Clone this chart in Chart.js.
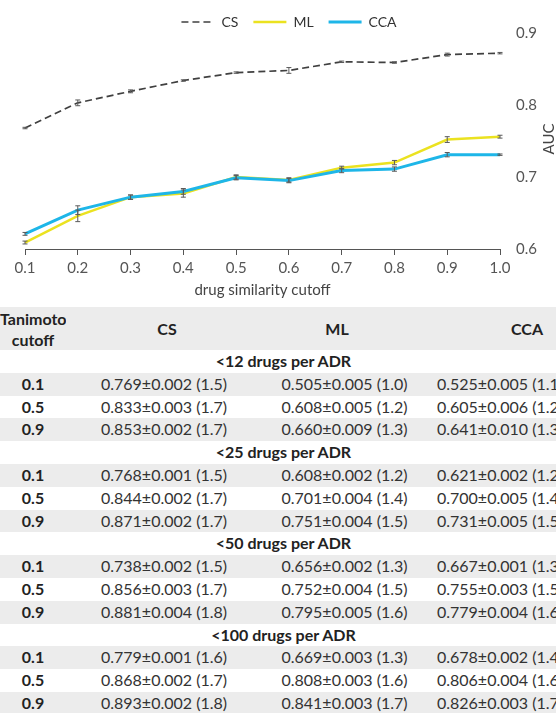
<!DOCTYPE html>
<html>
<head>
<meta charset="utf-8">
<script src="https://cdn.jsdelivr.net/npm/chart.js@4.4.1/dist/chart.umd.min.js"></script>
<style>
  html, body { margin: 0; padding: 0; background: #fff; overflow: hidden; width: 556px; height: 713px; }
  #wrap { position: relative; width: 556px; height: 307px; }
  table { border-collapse: collapse; font-family: Lato, sans-serif; font-size: 16px; color: #333; table-layout: fixed; width: 573px; }
  td, th { text-align: center; padding: 0; height: 22.8px; line-height: 22.8px; white-space: nowrap; overflow: hidden; }
  th { font-weight: bold; color: #222; line-height: 21px; height: 43px; }
  th.cs { padding-left: 6px; }
  th.ml { padding-right: 15px; }
  th.cca { padding-left: 54px; }
  tr.grey { background: #ececec; }
  td.cut, td.grp { font-weight: bold; color: #222; }
  td.grp { padding-right: 6px; }
</style>
</head>
<body>
<div id="wrap"><canvas id="chart"></canvas></div>
<table id="tbl"></table>
<script>
// AUC vs drug similarity cutoff
const cutoffLabels = ['0.1', '0.2', '0.3', '0.4', '0.5', '0.6', '0.7', '0.8', '0.9', '1.0'];
const csAUC  = [0.768, 0.803, 0.819, 0.834, 0.845, 0.848, 0.860, 0.859, 0.870, 0.872];
const mlAUC  = [0.609, 0.646, 0.672, 0.677, 0.700, 0.696, 0.713, 0.720, 0.752, 0.756];
const ccaAUC = [0.621, 0.654, 0.672, 0.680, 0.699, 0.695, 0.709, 0.711, 0.731, 0.731];
const csErr  = [0.001, 0.004, 0.002, 0.001, 0.001, 0.004, 0.001, 0.001, 0.002, 0.001];
const mlErr  = [0.002, 0.008, 0.003, 0.005, 0.003, 0.003, 0.002, 0.003, 0.004, 0.002];
const ccaErr = [0.002, 0.006, 0.003, 0.004, 0.003, 0.003, 0.003, 0.003, 0.003, 0.001];
const yTicks = [0.6, 0.7, 0.8, 0.9];

// table below the chart
const tableHead = ['Tanimoto<br>cutoff', 'CS', 'ML', 'CCA'];
const headClass = ['', 'cs', 'ml', 'cca'];
const groupNames = ['<12 drugs per ADR', '<25 drugs per ADR', '<50 drugs per ADR', '<100 drugs per ADR'];
const rowCutoffs = ['0.1', '0.5', '0.9'];
const tableCS = [
    ['0.769±0.002 (1.5)', '0.833±0.003 (1.7)', '0.853±0.002 (1.7)'],
    ['0.768±0.001 (1.5)', '0.844±0.002 (1.7)', '0.871±0.002 (1.7)'],
    ['0.738±0.002 (1.5)', '0.856±0.003 (1.7)', '0.881±0.004 (1.8)'],
    ['0.779±0.001 (1.6)', '0.868±0.002 (1.7)', '0.893±0.002 (1.8)']
];
const tableML = [
    ['0.505±0.005 (1.0)', '0.608±0.005 (1.2)', '0.660±0.009 (1.3)'],
    ['0.608±0.002 (1.2)', '0.701±0.004 (1.4)', '0.751±0.004 (1.5)'],
    ['0.656±0.002 (1.3)', '0.752±0.004 (1.5)', '0.795±0.005 (1.6)'],
    ['0.669±0.003 (1.3)', '0.808±0.003 (1.6)', '0.841±0.003 (1.7)']
];
const tableCCA = [
    ['0.525±0.005 (1.1)', '0.605±0.006 (1.2)', '0.641±0.010 (1.3)'],
    ['0.621±0.002 (1.2)', '0.700±0.005 (1.4)', '0.731±0.005 (1.5)'],
    ['0.667±0.001 (1.3)', '0.755±0.003 (1.5)', '0.779±0.004 (1.6)'],
    ['0.678±0.002 (1.4)', '0.806±0.004 (1.6)', '0.826±0.003 (1.7)']
];

function esc(s) { return s.replace(/</g, '&lt;'); }

function buildTable() {
    let html = '<colgroup><col style="width:66px"><col style="width:196px"><col style="width:165px"><col style="width:146px"></colgroup>';
    html += '<tr class="grey">' + tableHead.map((h, i) => `<th class="${headClass[i]}">${h}</th>`).join('') + '</tr>';
    groupNames.forEach((g, gi) => {
        html += `<tr><td class="grp" colspan="4">${esc(g)}</td></tr>`;
        rowCutoffs.forEach((c, ri) => {
            const cls = ri === 1 ? '' : ' class="grey"';
            html += `<tr${cls}><td class="cut">${c}</td><td>${tableCS[gi][ri]}</td><td>${tableML[gi][ri]}</td><td>${tableCCA[gi][ri]}</td></tr>`;
        });
    });
    document.getElementById('tbl').innerHTML = html;
}

const errorBars = {
    id: 'errorBars',
    afterDatasetsDraw(chart) {
        const ctx = chart.ctx;
        const y = chart.scales.y;
        ctx.save();
        ctx.strokeStyle = '#5a5a5a';
        ctx.lineWidth = 1;
        ctx.setLineDash([]);
        chart.data.datasets.forEach((ds, di) => {
            const meta = chart.getDatasetMeta(di);
            ds.errors.forEach((e, i) => {
                const pt = meta.data[i];
                const top = y.getPixelForValue(ds.data[i] + e);
                const bot = y.getPixelForValue(ds.data[i] - e);
                ctx.beginPath();
                ctx.moveTo(pt.x, top); ctx.lineTo(pt.x, bot);
                ctx.moveTo(pt.x - 2.5, top); ctx.lineTo(pt.x + 2.5, top);
                ctx.moveTo(pt.x - 2.5, bot); ctx.lineTo(pt.x + 2.5, bot);
                ctx.stroke();
            });
        });
        ctx.restore();
    }
};

const aucTitle = {
    id: 'aucTitle',
    afterDraw(chart) {
        const ctx = chart.ctx;
        const a = chart.chartArea;
        ctx.save();
        ctx.translate(a.right + 49, 139);
        ctx.rotate(-Math.PI / 2);
        ctx.font = '15px Lato';
        ctx.fillStyle = '#444';
        ctx.textAlign = 'center';
        ctx.textBaseline = 'middle';
        ctx.fillText('AUC', 0, 0);
        ctx.restore();
    }
};

// trim the legend box so the plot starts closer to it
const legendTrim = {
    id: 'legendTrim',
    afterInit(chart) {
        const lg = chart.legend;
        if (!lg) return;
        const fit = lg.fit;
        lg.fit = function () { fit.call(this); this.height -= 6; };
    }
};

document.addEventListener('DOMContentLoaded', function () {
    buildTable();
    const ctx = document.getElementById('chart').getContext('2d');
    new Chart(ctx, {
        type: 'line',
        data: {
            labels: cutoffLabels,
            datasets: [
                { label: 'CS', data: csAUC, errors: csErr, borderColor: '#404040', borderWidth: 1.7,
                  borderDash: [7, 4], pointRadius: 0, order: 2 },
                { label: 'ML', data: mlAUC, errors: mlErr, borderColor: '#ebe220', borderWidth: 2.5,
                  pointRadius: 0, order: 1 },
                { label: 'CCA', data: ccaAUC, errors: ccaErr, borderColor: '#1eb6e8', borderWidth: 3,
                  pointRadius: 0, order: 0 }
            ]
        },
        options: {
            responsive: true,
            maintainAspectRatio: false,
            animation: false,
            layout: { padding: { left: 22, right: 0, top: 0, bottom: 4 } },
            plugins: {
                legend: {
                    position: 'top',
                    labels: {
                        usePointStyle: true,
                        pointStyle: 'line',
                        pointStyleWidth: 33,
                        padding: 15,
                        color: '#333',
                        font: { family: 'Lato', size: 14 },
                        generateLabels: (chart) => chart.data.datasets.map((ds, i) => ({
                            text: ds.label,
                            strokeStyle: ds.borderColor,
                            fillStyle: ds.borderColor,
                            lineWidth: ds.borderWidth,
                            lineDash: ds.borderDash || [],
                            pointStyle: 'line',
                            fontColor: '#333',
                            hidden: false,
                            datasetIndex: i
                        }))
                    }
                },
                tooltip: { enabled: false }
            },
            scales: {
                x: {
                    grid: { display: true, drawOnChartArea: false, tickLength: 6, color: '#555' },
                    border: { display: true, color: '#555', width: 1 },
                    ticks: { color: '#555', font: { family: 'Lato', size: 15 }, padding: 4 },
                    title: { display: true, text: 'drug similarity cutoff', color: '#444',
                             font: { family: 'Lato', size: 15 }, padding: { top: 0, bottom: 4 } }
                },
                yl: {
                    position: 'left',
                    afterFit: (scale) => { scale.width = 3; },
                    grid: { display: false, drawTicks: false },
                    border: { display: false },
                    ticks: { display: false }
                },
                y: {
                    position: 'right',
                    min: 0.6,
                    max: 0.9,
                    afterBuildTicks: (scale) => { scale.ticks = yTicks.map(v => ({ value: v })); },
                    afterFit: (scale) => { scale.width = 56; },
                    grid: { display: false, drawTicks: false },
                    border: { display: false },
                    ticks: { color: '#555', font: { family: 'Lato', size: 15 }, padding: 16,
                             callback: (v) => v.toFixed(1) }
                }
            }
        },
        plugins: [errorBars, aucTitle, legendTrim]
    });
});
</script>
</body>
</html>
